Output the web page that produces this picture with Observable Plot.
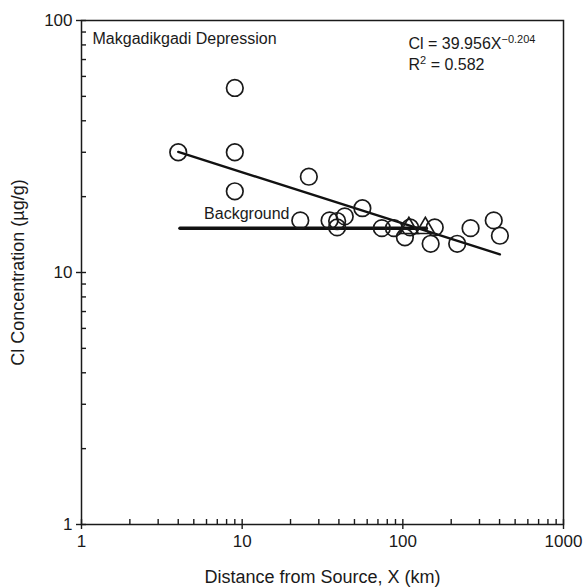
<!DOCTYPE html>
<html>
<head>
<meta charset="utf-8">
<script src="https://cdn.jsdelivr.net/npm/d3@7"></script>
<script src="https://cdn.jsdelivr.net/npm/@observablehq/plot@0.6"></script>
<style>
  html, body { margin: 0; padding: 0; background: #fff; }
  #chart svg { display: block; }
</style>
</head>
<body>
<div id="chart"></div>
<script>
// Sample points (circles)
const sampleX = [4, 9, 9, 9, 26, 23, 35, 39, 39, 43.5, 56, 74, 88, 103, 111, 158, 149, 218, 264, 368, 402];
const sampleY = [30, 54, 30, 21, 24, 16.1, 16.1, 16.0, 15.1, 16.7, 18, 15, 15, 13.8, 15.1, 15.1, 13, 13, 15, 16.1, 14];
// Triangle points
const triX = [109, 138];
const triY = [15, 15];
// Power-law fit end points
const fitX = [4, 402];
const fitY = [30.1, 11.8];
// Background level line
const bgX = [4.1, 140];
const bgY = [15, 15];
// Ticks
const xMajor = [1, 10, 100, 1000];
const yMajor = [1, 10, 100];
const xMinor = [2,3,4,5,6,7,8,9,20,30,40,50,60,70,80,90,200,300,400,500,600,700,800,900];
const yMinor = [2,3,4,5,6,7,8,9,20,30,40,50,60,70,80,90];

const W = 587, H = 588;
const mL = 81, mR = 24, mT = 20, mB = 64;
const innerW = W - mL - mR, innerH = H - mT - mB;
const ink = "#1a1a1a";
const font = "'Liberation Sans', Arial, Helvetica, sans-serif";

const samples = sampleX.map((x, i) => ({x, y: sampleY[i]}));
const tris = triX.map((x, i) => ({x, y: triY[i]}));
const fit = fitX.map((x, i) => ({x, y: fitY[i]}));
const bg = bgX.map((x, i) => ({x, y: bgY[i]}));

const chart = Plot.plot({
  width: W, height: H,
  marginLeft: mL, marginRight: mR, marginTop: mT, marginBottom: mB,
  style: {fontFamily: font, color: ink, background: "#fff"},
  x: {type: "log", domain: [1, 1000]},
  y: {type: "log", domain: [1, 100]},
  marks: [
    Plot.axisX(xMajor, {tickSize: 5, tickPadding: 5, tickFormat: d => String(d), fontSize: 17, label: null, stroke: ink, strokeWidth: 1.4, fill: ink}),
    Plot.axisY(yMajor, {tickSize: 5, tickPadding: 4, tickFormat: d => String(d), fontSize: 17, label: null, stroke: ink, strokeWidth: 1.4, fill: ink}),
    Plot.tickX(xMinor.concat(xMajor), {x: d => d, insetTop: innerH - 5, stroke: ink, strokeWidth: 1.4}),
    Plot.tickY(yMinor.concat(yMajor), {y: d => d, insetRight: innerW - 5, stroke: ink, strokeWidth: 1.4}),
    Plot.frame({stroke: ink, strokeWidth: 1.5}),
    Plot.line(bg, {x: "x", y: "y", stroke: "#111", strokeWidth: 3.5}),
    Plot.line(fit, {x: "x", y: "y", stroke: "#111", strokeWidth: 2.4}),
    Plot.dot(samples, {x: "x", y: "y", r: 8.3, stroke: ink, strokeWidth: 1.7, fill: "none"}),
    Plot.dot(tris, {x: "x", y: "y", r: 7, symbol: "triangle", stroke: ink, strokeWidth: 1.6, fill: "none"}),
    Plot.text(["Background"], {x: 19.7, y: 17.1, text: d => d, textAnchor: "end", lineAnchor: "middle", fontSize: 16, fill: ink}),
    Plot.text(["Makgadikgadi Depression"], {frameAnchor: "top-left", dx: 11, dy: 18, textAnchor: "start", lineAnchor: "middle", fontSize: 16, fill: ink}),
    Plot.text(["Cl = 39.956X"], {frameAnchor: "top-left", dx: 327, dy: 23, textAnchor: "start", lineAnchor: "middle", fontSize: 16, fill: ink}),
    Plot.text(["R2 = 0.582"], {frameAnchor: "top-left", dx: 327, dy: 44.5, textAnchor: "start", lineAnchor: "middle", fontSize: 16, fill: ink}),
    Plot.text(["Cl Concentration (µg/g)"], {frameAnchor: "left", dx: -63, rotate: -90, textAnchor: "middle", lineAnchor: "middle", fontSize: 18, fill: ink}),
    Plot.text(["Distance from Source, X (km)"], {frameAnchor: "bottom", dy: 53, textAnchor: "middle", lineAnchor: "middle", fontSize: 18, fill: ink})
  ]
});

document.getElementById("chart").appendChild(chart);

// Superscripts
d3.select(chart).selectAll("text").each(function() {
  const t = this.textContent;
  if (t === "Cl = 39.956X") {
    d3.select(this).append("tspan").attr("dy", -6).attr("font-size", 11).text("\u22120.204");
  } else if (t === "R2 = 0.582") {
    const sel = d3.select(this);
    sel.text("R");
    sel.append("tspan").attr("dy", -6).attr("font-size", 11).text("2");
    sel.append("tspan").attr("dy", 6).text(" = 0.582");
  }
});
</script>
</body>
</html>
